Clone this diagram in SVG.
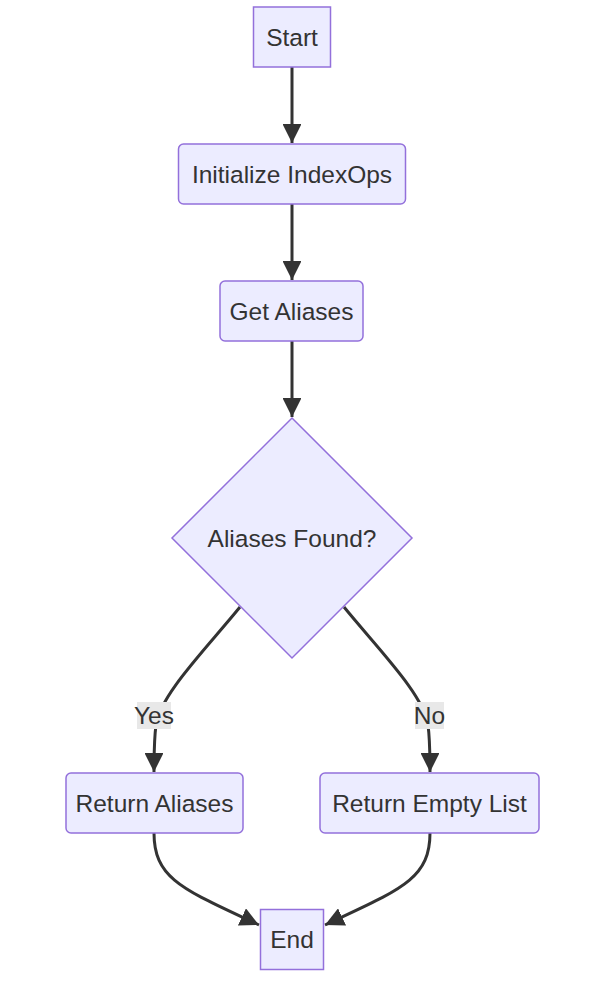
<svg xmlns="http://www.w3.org/2000/svg" width="603" height="982" viewBox="0 0 603 982">
<style>
.node rect,.node polygon{fill:#ECECFF;stroke:#9370DB;stroke-width:1.5}
text{font-family:"Liberation Sans",Arial,sans-serif;font-size:24.5px;fill:#333;text-anchor:middle;dominant-baseline:central}
.edge{fill:none;stroke:#333;stroke-width:3}
.lbl{fill:#e8e8e8}
</style>
<defs>
<marker id="arr" viewBox="0 0 10 10" refX="10" refY="5" markerWidth="6.3" markerHeight="6.3" markerUnits="strokeWidth" orient="auto">
<path d="M0,0 L10,5 L0,10 z" fill="#333"/>
</marker>
</defs>
<rect width="603" height="982" fill="#fff"/>
<g id="connectors">
<path class="edge" marker-end="url(#arr)" d="M292,67 L292,143"/>
<path class="edge" marker-end="url(#arr)" d="M292,204 L292,280"/>
<path class="edge" marker-end="url(#arr)" d="M292,341 L292,417"/>
<path class="edge" marker-end="url(#arr)" d="M240,607 C205,650 160,695 156,725 C154,740 154,755 154,772"/>
<path class="edge" marker-end="url(#arr)" d="M344,607 C379,650 424,695 428,725 C430,740 430,755 430,772"/>
<path class="edge" marker-end="url(#arr)" d="M154,833 C154,880 185,890 259,925"/>
<path class="edge" marker-end="url(#arr)" d="M430,833 C430,880 399,890 325,925"/>
<rect class="lbl" x="137" y="702" width="34" height="27"/>
<text x="154" y="715.5" font-size="22.5">Yes</text>
<rect class="lbl" x="415" y="702" width="29" height="27"/>
<text x="429.5" y="715.5" font-size="22.5">No</text>
</g>
<g id="start" class="node"><rect x="253.5" y="7" width="77" height="60"/><text x="292" y="37">Start</text></g>
<g id="init" class="node"><rect x="178.5" y="144" width="227" height="60" rx="5"/><text x="292" y="174">Initialize IndexOps</text></g>
<g id="getaliases" class="node"><rect x="220" y="281" width="143" height="60" rx="5"/><text x="291.5" y="311">Get Aliases</text></g>
<g id="found" class="node"><polygon points="292,418 412,538 292,658 172,538"/><text x="292" y="538">Aliases Found?</text></g>
<g id="retaliases" class="node"><rect x="66" y="773" width="177" height="60" rx="5"/><text x="154.5" y="803">Return Aliases</text></g>
<g id="retempty" class="node"><rect x="320" y="773" width="219" height="60" rx="5"/><text x="429.5" y="803">Return Empty List</text></g>
<g id="end" class="node"><rect x="260.5" y="909.5" width="63" height="60"/><text x="292" y="939.5">End</text></g>
</svg>
